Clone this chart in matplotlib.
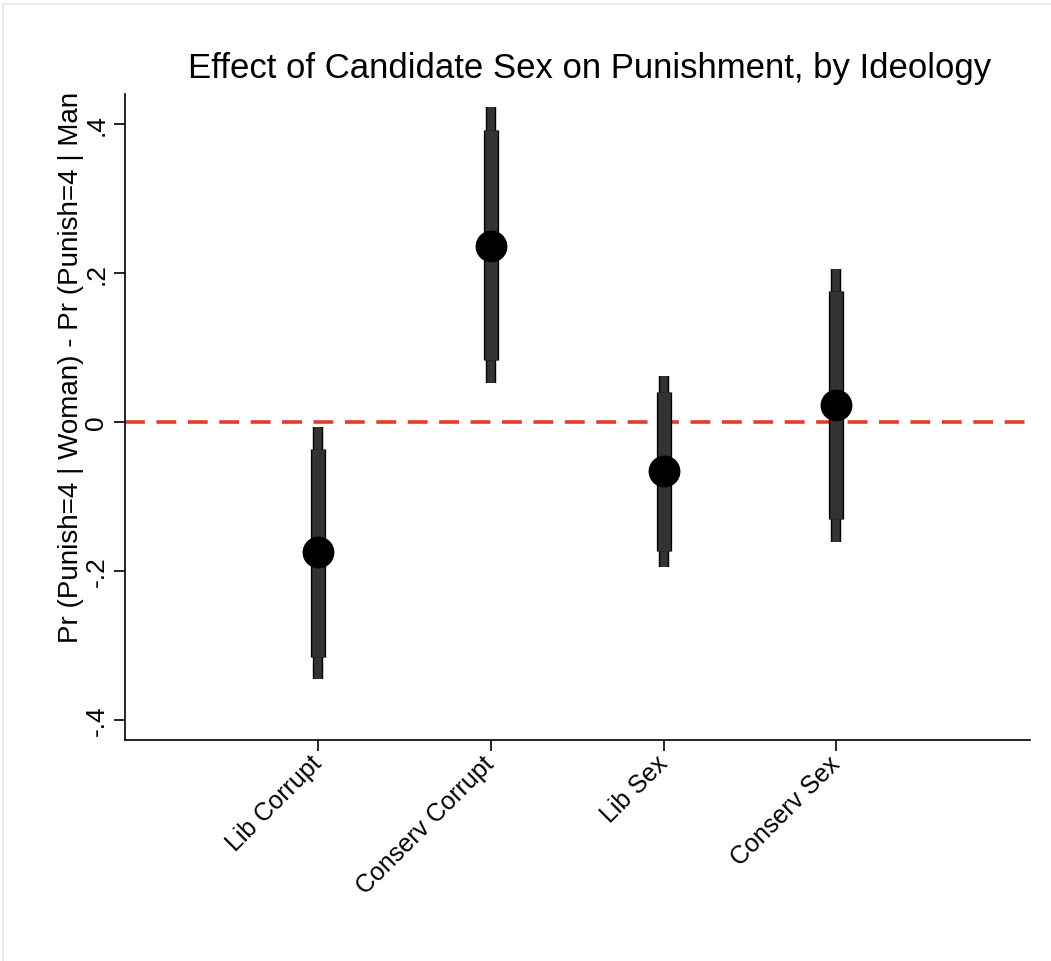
import matplotlib.pyplot as plt
from matplotlib.patches import Rectangle

# estimates
groups = ["Lib Corrupt", "Conserv Corrupt", "Lib Sex", "Conserv Sex"]
effect = [-0.175, 0.236, -0.066, 0.023]
ci90_lo = [-0.315, 0.083, -0.173, -0.130]
ci90_hi = [-0.036, 0.392, 0.040, 0.175]
ci95_lo = [-0.345, 0.052, -0.195, -0.161]
ci95_hi = [-0.007, 0.423, 0.062, 0.205]
yticks = [-0.4, -0.2, 0, 0.2, 0.4]
ytick_labels = ["-.4", "-.2", "0", ".2", ".4"]

plt.rcParams['font.family'] = ['Liberation Sans', 'DejaVu Sans']

fig = plt.figure(figsize=(10.51, 9.62), dpi=100)
# faint frame of the graph region
fig.patches.append(Rectangle((3 / 1051, -0.01), 1.02, 1.0 - 5 / 962 + 0.01,
                             transform=fig.transFigure, fill=False,
                             edgecolor="#e6e6e6", linewidth=1.2))
ax = fig.add_axes([0.119, 0.2297, 0.861, 0.6715])

x = list(range(1, len(groups) + 1))

ax.axhline(0, color="#e8392d", linewidth=2.6, linestyle=(0, (5.5, 3.2)), zorder=1)

ax.vlines(x, ci95_lo, ci95_hi, color="black", linewidth=7.5, zorder=2)
ax.vlines(x, ci95_lo, ci95_hi, color="#333333", linewidth=5.5, zorder=2)
ax.vlines(x, ci90_lo, ci90_hi, color="black", linewidth=11, zorder=3)
ax.vlines(x, ci90_lo, ci90_hi, color="#333333", linewidth=9, zorder=3)
ax.scatter(x, effect, s=480, color="black", zorder=4)

ax.set_xlim(-0.115, 5.12)
ax.set_ylim(-0.427, 0.44)

ax.set_yticks(yticks)
ax.set_yticklabels(ytick_labels, rotation=90, va="center", fontsize=19)
ax.set_xticks(x)
ax.set_xticklabels(groups, rotation=45, ha="right", va="center",
                   rotation_mode="anchor", fontsize=18)
ax.tick_params(axis="both", length=8, width=1.2, color="black")
ax.tick_params(axis="x", pad=6)
ax.tick_params(axis="y", pad=4)

for side in ["top", "right"]:
    ax.spines[side].set_visible(False)
for side in ["left", "bottom"]:
    ax.spines[side].set_linewidth(1.2)

ax.set_ylabel("Pr (Punish=4 | Woman) - Pr (Punish=4 | Man", fontsize=20)
ax.yaxis.set_label_coords(-0.045, 0.579)
fig.text(0.561, 0.929, "Effect of Candidate Sex on Punishment, by Ideology",
         ha="center", va="center", fontsize=25)

fig.savefig("out.png", dpi=100, facecolor="white")
